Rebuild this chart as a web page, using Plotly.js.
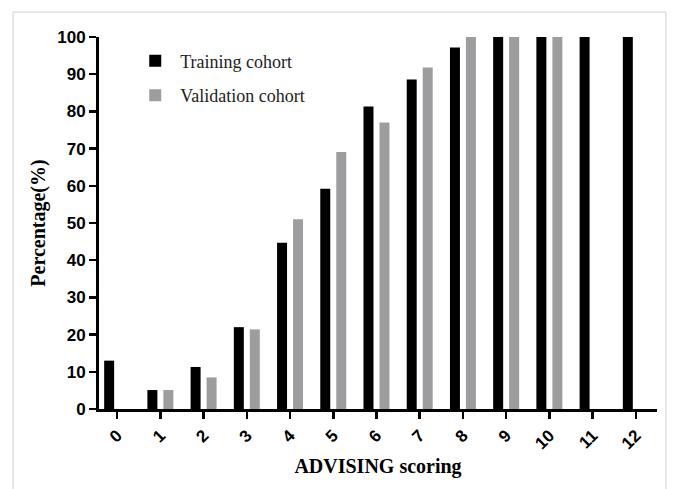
<!DOCTYPE html>
<html>
<head>
<meta charset="utf-8">
<script src="https://cdn.plot.ly/plotly-3.0.1.min.js"></script>
<style>html,body{margin:0;padding:0;background:#fff;}#chart{width:677px;height:489px;}</style>
</head>
<body>
<div id="chart"></div>
<script>
var categories = ["0","1","2","3","4","5","6","7","8","9","10","11","12"];
var trainingValues = [13.0, 5.1, 11.3, 22.0, 44.7, 59.2, 81.3, 88.6, 97.2, 100, 100, 100, 100];
var validationValues = [0, 5.1, 8.5, 21.4, 51.0, 69.1, 77.0, 91.8, 100, 100, 100, 0, 0];
var yTicks = [0,10,20,30,40,50,60,70,80,90,100];

var xIdx = categories.map(function(c, i){ return i; });

var traces = [
  {type:'bar', name:'Training cohort', legendgroup:'t', x:xIdx, y:trainingValues, marker:{color:'#000000'}},
  {type:'bar', name:'Validation cohort', legendgroup:'v', x:xIdx, y:validationValues, marker:{color:'#9d9d9f'}}
];

var layout = {
  width:677, height:489,
  margin:{l:99, r:20, t:37, b:80},
  paper_bgcolor:'#ffffff', plot_bgcolor:'#ffffff',
  barmode:'group', bargap:0.26, bargroupgap:0.375,
  showlegend:true,
  legend:{x:0.056, y:0.985, xanchor:'left', yanchor:'top', bgcolor:'rgba(0,0,0,0)',
          font:{family:'Liberation Serif, Times New Roman, serif', size:18, color:'#222'},
          tracegroupgap:8, itemwidth:40},
  xaxis:{
    range:[-0.42, 12.49], tickmode:'array', tickvals:xIdx, ticktext:categories,
    tickangle:-45, showgrid:false, zeroline:false,
    showline:true, linecolor:'#000', linewidth:3,
    ticks:'outside', ticklen:7, tickwidth:2.5, tickcolor:'#000',
    tickfont:{family:'Liberation Sans, Arial, sans-serif', size:17, color:'#000', weight:'bold'},
    title:{text:'<b>ADVISING scoring</b>', font:{family:'Liberation Serif, Times New Roman, serif', size:20, color:'#000'}, standoff:7}
  },
  yaxis:{
    range:[0,100], tickmode:'array', tickvals:yTicks, ticktext:yTicks.map(String),
    showgrid:false, zeroline:false,
    showline:true, linecolor:'#000', linewidth:3,
    ticks:'outside', ticklen:7, tickwidth:2.5, tickcolor:'#000',
    tickfont:{family:'Liberation Sans, Arial, sans-serif', size:17, color:'#000', weight:'bold'},
    title:{text:'<b>Percentage(%)</b>', font:{family:'Liberation Serif, Times New Roman, serif', size:20, color:'#000'}, standoff:7}
  },
  shapes:[
    {type:'rect', xref:'paper', yref:'paper', x0:-0.154, x1:1.016, y0:-0.25, y1:1.067,
     line:{color:'#cfcfcf', width:1}, fillcolor:'rgba(0,0,0,0)', layer:'below'}
  ]
};

Plotly.newPlot('chart', traces, layout, {displayModeBar:false, staticPlot:true});
</script>
</body>
</html>
